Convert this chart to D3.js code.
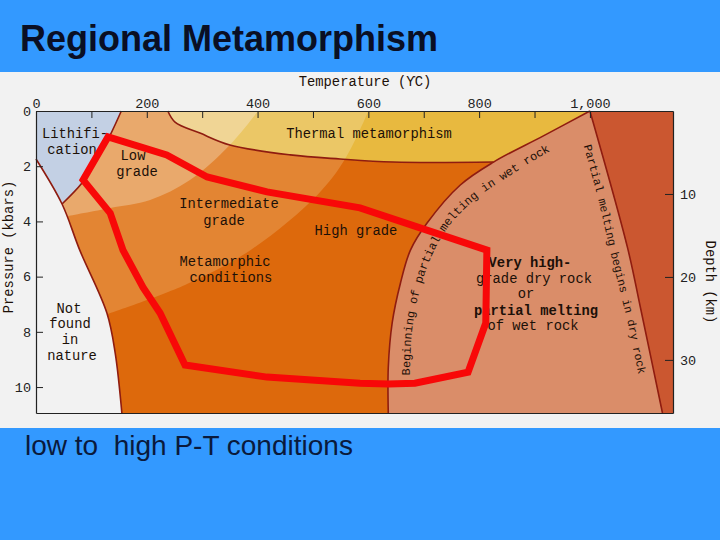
<!DOCTYPE html>
<html>
<head>
<meta charset="utf-8">
<script src="https://cdn.jsdelivr.net/npm/d3@7"></script>
<style>
  html, body { margin: 0; padding: 0; background: #3399ff; }
  svg { display: block; }
  .axis text { font: 13.5px "Liberation Mono", monospace; fill: #222; }
  .note { font: 13.8px "Liberation Mono", monospace; fill: #1c1008; text-anchor: middle; }
  .bold { font-weight: bold; }
</style>
</head>
<body>
<div id="chart"></div>
<script>
/* global d3 */

// Tick values
const tempTicks = [0, 100, 200, 300, 400, 500, 600, 700, 800, 900, 1000]
const pressureTicks = [0, 2, 4, 6, 8, 10]
const depthTicks = [10, 20, 30]

// Boundaries as [temperature C, pressure kbar]
const notFoundEdge = [[0, 1.74], [47, 3.37], [79, 5.04], [128, 7.32], [143, 8.77], [155, 10.94]]
const lithEdge = [[154, 0], [134, 0.87], [110, 1.78], [83, 2.61], [47, 3.37]]
const thermalEdge = [[238, 0], [251, 0.4], [296, 0.8], [350, 1.23], [459, 1.59], [549, 1.74], [645, 1.85], [826, 1.85]]
const wetEdge = [[1000, 0], [916, 0.9], [826, 1.85], [766, 2.68], [706, 4.06], [676, 5.04], [658, 6.23], [643, 7.68], [636, 9.28], [636, 10.94]]
const dryEdge = [[1000, 0], [1068, 4.96], [1091, 7.1], [1131, 10.94]]
const lowArc = [[58, 3.8], [134, 3.51], [206, 3.22], [278, 2.5], [350, 1.23], [401, 0]]
const highArc = [[128, 7.36], [269, 6.3], [387, 5.04], [508, 3.04], [558, 1.74], [600, 0]]

// Baselines of the curved labels, run on past the end of the text
const wetLabelPath = [[675, 9.57], [679, 7.93], [693, 6.49], [715, 5.22], [747, 4.13], [793, 3.2], [847, 2.45], [915, 1.6], [975, 0.95]]
const dryLabelPath = [[989, 1.27], [1015, 3.22], [1036, 5.04], [1067, 7.57], [1087, 9.46], [1100, 10.5]]

// The red P-T field
const ptField = [[130, 0.94], [236, 1.59], [309, 2.39], [417, 2.93], [585, 3.51], [814, 5.04], [812, 7.68], [780, 9.46],
  [684, 9.86], [636, 9.89], [585, 9.86], [417, 9.64], [269, 9.2], [224, 7.32], [193, 6.38], [157, 5.04], [134, 3.7], [85, 2.5]]

const width = 720,
  height = 540,
  plotLeft = 36,
  plotRight = 673,
  plotTop = 111,
  plotBottom = 413,
  maxTemp = 1150,
  maxPressure = 10.94,
  maxDepth = 36.4

let svg = d3.select('#chart')
  .append('svg')
  .attr('width', width)
  .attr('height', height)

const x = d3.scaleLinear().domain([0, maxTemp]).range([plotLeft, plotRight])
const y = d3.scaleLinear().domain([0, maxPressure]).range([plotTop, plotBottom])
const depth = d3.scaleLinear().domain([0, maxDepth]).range([plotTop, plotBottom])

// Straight and smooth lines through the points
const straight = d3.line()
  .x(d => x(d[0]))
  .y(d => y(d[1]))

const smooth = d3.line()
  .x(d => x(d[0]))
  .y(d => y(d[1]))
  .curve(d3.curveCatmullRom.alpha(0.5))

// Closed shape from smooth curves, then straight edges through the corners
let shape = (curves, corners) => 'M' + curves.map(p => smooth(p).slice(1)).join('L') +
  'L' + straight(corners).slice(1) + 'Z'

// page background
svg.append('rect').attr('width', width).attr('height', height).attr('fill', '#3399ff')
svg.append('rect').attr('y', 72).attr('width', width).attr('height', 356).attr('fill', '#f2f2f2')

svg.append('text')
  .attr('x', 20).attr('y', 51)
  .style('font', 'bold 36px "Liberation Sans", sans-serif')
  .attr('fill', '#0a0f24')
  .text('Regional Metamorphism')

svg.append('text')
  .attr('x', 25).attr('y', 455)
  .style('font', '28px "Liberation Sans", sans-serif')
  .style('white-space', 'pre')
  .attr('fill', '#0a1a3c')
  .text('low to  high P-T conditions')

// grade bands
const toRight = [[maxTemp, 0], [maxTemp, maxPressure], [0, maxPressure]]
let bands = (g, colors) => {
  g.append('rect')
    .attr('x', x(0)).attr('y', y(0))
    .attr('width', x(maxTemp) - x(0)).attr('height', y(maxPressure) - y(0))
    .attr('fill', colors[0])
  g.append('path').attr('d', shape([lowArc], toRight)).attr('fill', colors[1])
  g.append('path').attr('d', shape([highArc], toRight)).attr('fill', colors[2])
}

bands(svg.append('g'), ['#e9a96c', '#e38533', '#dd690c'])

// same bands paler above the thermal edge
svg.append('clipPath').attr('id', 'thermal')
  .append('path')
  .attr('d', shape([thermalEdge, wetEdge.slice(0, 3).reverse()], [[238, 0]]))

bands(svg.append('g').attr('clip-path', 'url(#thermal)'), ['#f0d595', '#ebc766', '#e8b93f'])

svg.append('path').attr('d', shape([wetEdge, dryEdge.slice().reverse()], [[1000, 0]])).attr('fill', '#da8d69')
svg.append('path').attr('d', shape([dryEdge], [[maxTemp, maxPressure], [maxTemp, 0]])).attr('fill', '#cb5730')
svg.append('path').attr('d', shape([notFoundEdge], [[0, maxPressure]])).attr('fill', '#f2f2f2')
svg.append('path').attr('d', shape([lithEdge, notFoundEdge.slice(0, 2).reverse()], [[0, 0]])).attr('fill', '#c3d0e4')

// boundary lines
svg.selectAll('path.edge')
  .data([notFoundEdge, lithEdge, thermalEdge, wetEdge, dryEdge])
  .enter()
  .append('path')
  .attr('class', 'edge')
  .attr('d', smooth)
  .attr('fill', 'none')
  .attr('stroke', '#8f1c10')
  .attr('stroke-width', 1.6)

// axes, ticks point into the plot
let tidy = g => {
  g.attr('class', 'axis')
  g.select('.domain').attr('stroke', '#222').attr('stroke-width', 1.2)
  g.selectAll('.tick line').attr('stroke', '#222')
  g.selectAll('.tick text').filter(function () { return !this.textContent }).remove()
}

svg.append('g')
  .attr('transform', `translate(0, ${plotTop})`)
  .call(d3.axisTop(x).tickValues(tempTicks).tickSizeInner(-7).tickSizeOuter(0).tickPadding(3)
    .tickFormat(d => d % 200 === 0 ? d3.format(',')(d) : ''))
  .call(tidy)

svg.append('g')
  .attr('transform', `translate(0, ${plotBottom})`)
  .call(d3.axisBottom(x).tickValues([]).tickSizeOuter(0))
  .call(tidy)

svg.append('g')
  .attr('transform', `translate(${plotLeft}, 0)`)
  .call(d3.axisLeft(y).tickValues(pressureTicks).tickSizeInner(-7).tickSizeOuter(0).tickPadding(5))
  .call(tidy)

svg.append('g')
  .attr('transform', `translate(${plotRight}, 0)`)
  .call(d3.axisRight(depth).tickValues(depthTicks).tickSizeInner(-8).tickSizeOuter(0).tickPadding(7))
  .call(tidy)

// labels
let note = (label, px, py, bold) => {
  svg.append('text')
    .attr('class', bold ? 'note bold' : 'note')
    .attr('x', px).attr('y', py)
    .text(label)
}

note('Temperature (\u03D2C)', 365, 86)
note('Lithifi-', 75, 138)
note('cation', 72, 154)
note('Low', 133, 160)
note('grade', 137, 176)
note('Thermal metamorphism', 369, 138)
note('Intermediate', 229, 208)
note('grade', 224, 225)
note('Metamorphic', 225, 266)
note('conditions', 231, 282)
note('High grade', 356, 235)
note('Not', 69, 313)
note('found', 70, 328)
note('in', 70, 344)
note('nature', 72, 360)
note('Very high-', 530, 267, true)
note('grade dry rock', 534, 283)
note('or', 526, 298)
note('partial melting', 536, 315, true)
note('of wet rock', 533, 330)

svg.append('text')
  .attr('class', 'note')
  .attr('transform', 'translate(13, 247) rotate(-90)')
  .text('Pressure (kbars)')

svg.append('text')
  .attr('class', 'note')
  .attr('transform', 'translate(706, 282) rotate(90)')
  .text('Depth (km)')

// curved labels
let curved = (id, points, label, size) => {
  svg.append('path').attr('id', id).attr('d', smooth(points)).attr('fill', 'none')
  svg.append('text')
    .style('font', `${size}px "Liberation Mono", monospace`)
    .attr('fill', '#1c1008')
    .append('textPath')
    .attr('href', '#' + id)
    .text(label)
}

curved('wetLabel', wetLabelPath, 'Beginning of partial melting in wet rock', 11.8)
curved('dryLabel', dryLabelPath, 'Partial melting begins in dry rock', 11.5)

// P-T field on top of everything
svg.append('path')
  .attr('d', d3.line().x(d => x(d[0])).y(d => y(d[1])).curve(d3.curveLinearClosed)(ptField))
  .attr('fill', 'none')
  .attr('stroke', '#f80808')
  .attr('stroke-width', 7)
  .attr('stroke-linejoin', 'miter')
</script>
</body>
</html>
